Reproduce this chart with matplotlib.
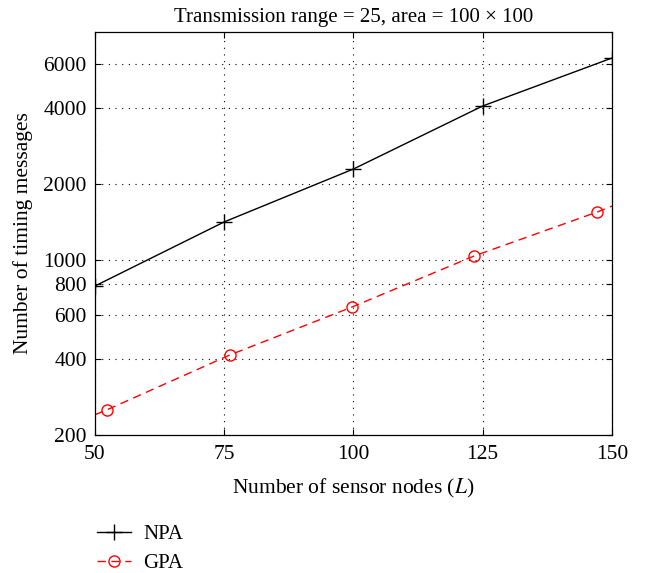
import matplotlib
matplotlib.use("Agg")
import matplotlib.pyplot as plt
from matplotlib.ticker import FixedLocator, NullLocator, FixedFormatter

plt.rcParams['font.family'] = ['Liberation Serif', 'DejaVu Serif']
plt.rcParams['mathtext.fontset'] = 'stix'

npa_x = [50, 75, 100, 125, 150]
npa_y = [785, 1413, 2296, 4093, 6355]

gpa_x = [50, 52.3, 76.1, 99.7, 123.3, 147.1, 150]
gpa_y = [241, 252, 417, 647, 1033, 1546, 1634]

xticks = [50, 75, 100, 125, 150]
yticks = [200, 400, 600, 800, 1000, 2000, 4000, 6000]
ytick_labels = ['200', '400', '600', '800', '1000', '2000', '4000', '6000']

fig = plt.figure(figsize=(6.48, 5.73), dpi=100)
ax = fig.add_axes([0.1466, 0.2408, 0.7978, 0.7034])

ax.plot(npa_x, npa_y, color='black', lw=1.0, marker='+', ms=11, mew=1.0, label='NPA')
ax.plot(gpa_x, gpa_y, color='#ff0000', lw=1.0, ls=(0, (6, 4)), marker='o', ms=8,
        mfc='none', mew=1.0, markevery=[1, 2, 3, 4, 5], label='GPA')

ax.set_yscale('log')
ax.set_xlim(50, 150)
ax.set_ylim(200, 8070)
ax.xaxis.set_major_locator(FixedLocator(xticks))
ax.yaxis.set_major_locator(FixedLocator(yticks))
ax.yaxis.set_major_formatter(FixedFormatter(ytick_labels))
ax.yaxis.set_minor_locator(NullLocator())
ax.tick_params(direction='in', top=True, right=True, labelsize=15.5, length=4, width=0.8)
ax.tick_params(axis='y', pad=6)
ax.tick_params(axis='x', pad=7)
ax.grid(True, ls=(0, (1, 5)), color='black', lw=0.8)
for s in ax.spines.values():
    s.set_linewidth(0.9)

ax.set_title('Transmission range = 25, area = 100 × 100', fontsize=15, pad=7)
ax.set_xlabel('Number of sensor nodes ($L$)', fontsize=15.5)
ax.set_ylabel('Number of timing messages', fontsize=15.5)
ax.xaxis.set_label_coords(0.5, -0.105)
ax.yaxis.set_label_coords(-0.12, 0.5)

fig.legend(loc='upper left', bbox_to_anchor=(0.15, 0.085), frameon=False, fontsize=15,
           handlelength=1.6, handletextpad=0.6, labelspacing=0.45, borderaxespad=0,
           borderpad=0)

fig.savefig('out.png', dpi=100)
